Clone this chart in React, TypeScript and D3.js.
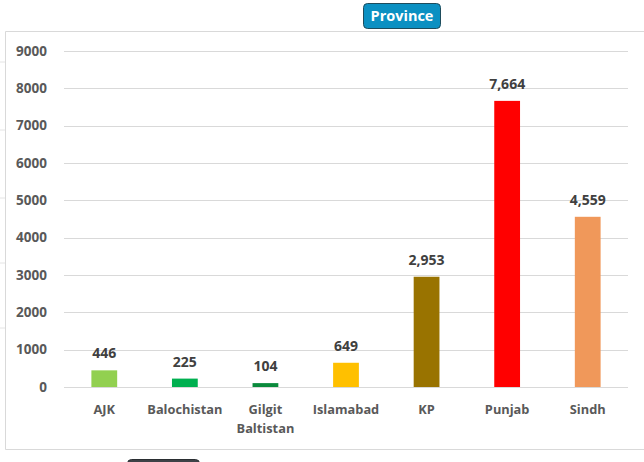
import * as d3 from "d3";
import * as React from "react";

const provinces = ["AJK", "Balochistan", "Gilgit Baltistan", "Islamabad", "KP", "Punjab", "Sindh"];
const cases = [446, 225, 104, 649, 2953, 7664, 4559];
const barColors = ["#92D050", "#00B050", "#0A8A3C", "#FFC000", "#997300", "#FF0000", "#F0985A"];
const yTicks = [0, 1000, 2000, 3000, 4000, 5000, 6000, 7000, 8000, 9000];

export default function App() {
  const width = 644;
  const height = 462;
  const marginLeft = 64;
  const marginRight = 16;
  const plotTop = 51;
  const plotBottom = 387;

  const x = d3
    .scaleBand<string>()
    .domain(provinces)
    .range([marginLeft, width - marginRight])
    .padding(0);
  const y = d3.scaleLinear().domain([0, 9000]).range([plotBottom, plotTop]);

  const barW = x.step() * 0.32;
  const fmt = d3.format(",");
  const font = "'Open Sans', sans-serif";

  // stubs of gridlines from the chart behind, left of the frame
  const stubs = [62, 130, 198, 263, 328];

  return (
    <svg
      width={width}
      height={height}
      viewBox={`0 0 ${width} ${height}`}
      style={{ position: "absolute", left: 0, top: 0, background: "#fff" }}
      fontFamily={font}
    >
      {stubs.map((s) => (
        <line key={s} x1={0} x2={5} y1={s} y2={s} stroke="#e4e4e4" />
      ))}
      {/* chart frame, open to the right */}
      <path d={`M${width},31.5H5.5V449.5H${width}`} fill="#fff" stroke="#d9d9d9" />

      {/* gridlines + y ticks */}
      {yTicks.map((t) => (
        <g key={t}>
          <line
            x1={marginLeft}
            x2={width - marginRight}
            y1={Math.round(y(t)) + 0.5}
            y2={Math.round(y(t)) + 0.5}
            stroke="#d9d9d9"
            strokeWidth={1.2}
          />
          <text
            x={47}
            y={y(t)}
            dy="0.35em"
            textAnchor="end"
            fontSize={13.5}
            fontWeight={700}
            fill="#595959"
          >
            {t}
          </text>
        </g>
      ))}

      {/* bars */}
      {provinces.map((p, i) => {
        const cx = (x(p) ?? 0) + x.step() / 2;
        return (
          <g key={p}>
            <rect
              x={cx - barW / 2}
              y={y(cases[i])}
              width={barW}
              height={y(0) - y(cases[i])}
              fill={barColors[i]}
            />
            <text
              x={cx}
              y={y(cases[i]) - 12}
              textAnchor="middle"
              fontSize={14}
              fontWeight={700}
              fill="#404040"
            >
              {fmt(cases[i])}
            </text>
            <text x={cx} y={414} textAnchor="middle" fontSize={12.8} fontWeight={700} fill="#595959">
              {p.split(" ").map((w, j) => (
                <tspan key={j} x={cx} dy={j === 0 ? 0 : 19}>
                  {w}
                </tspan>
              ))}
            </text>
          </g>
        );
      })}

      {/* slicer button */}
      <rect x={363.5} y={3.5} width={77} height={25} rx={4} fill="#0B90C2" stroke="#1E4C5C" />
      <text x={402} y={16} dy="0.35em" textAnchor="middle" fontSize={14.5} fontWeight={700} fill="#fff">
        Province
      </text>
      <rect x={127.5} y={459.5} width={72} height={12} rx={4} fill="#3d4247" stroke="#2a2e32" />
    </svg>
  );
}
